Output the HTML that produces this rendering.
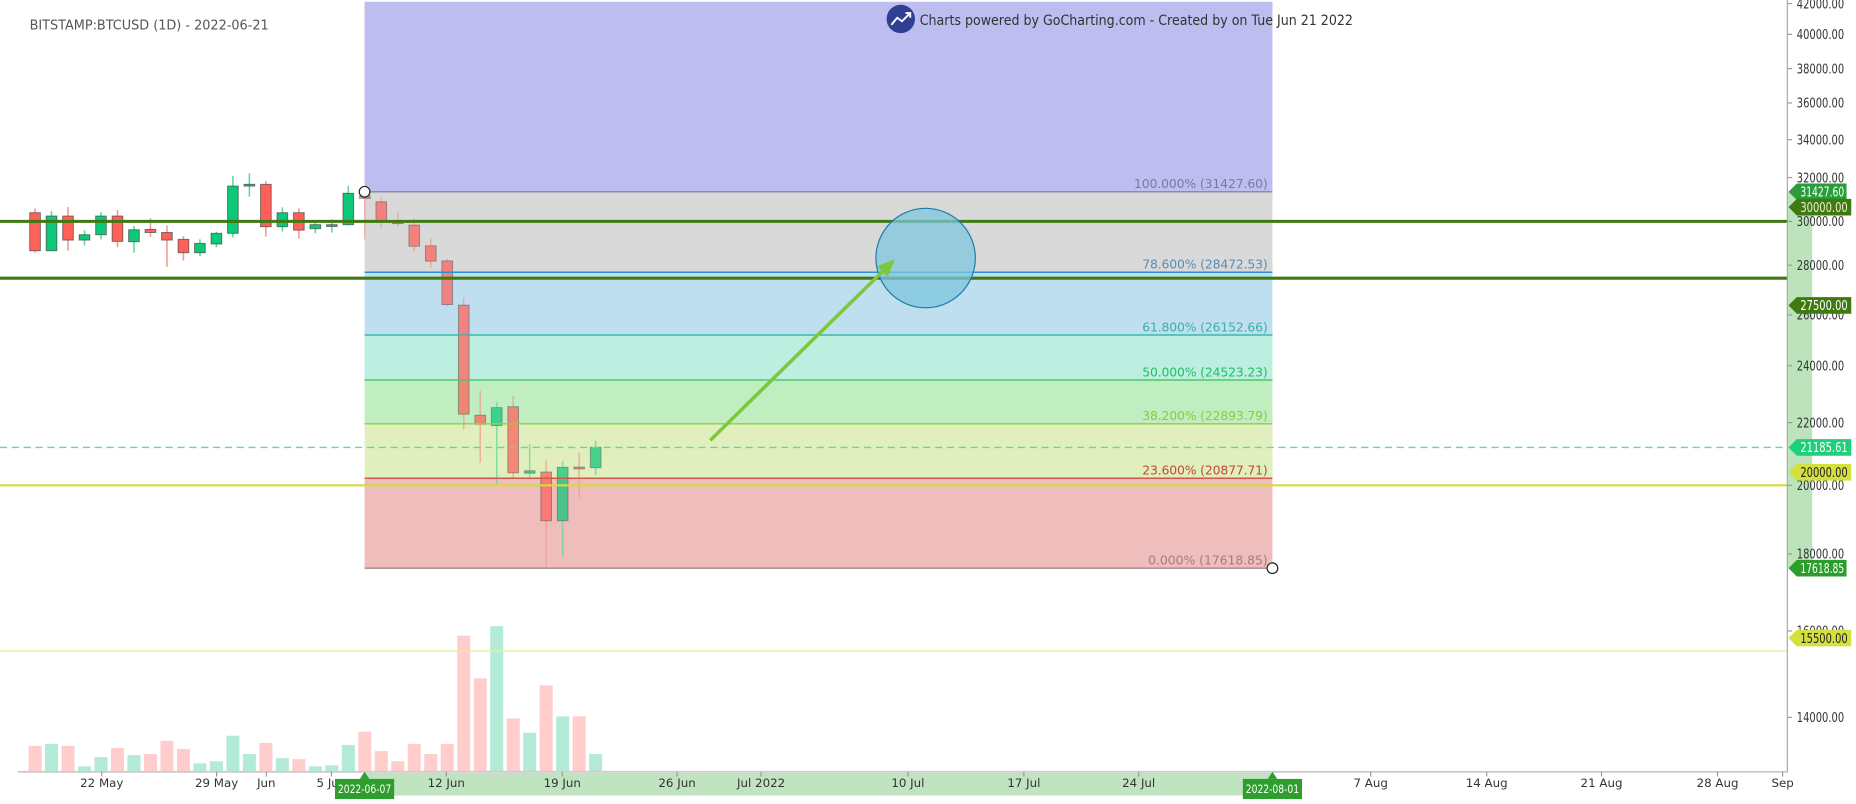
<!DOCTYPE html>
<html><head><meta charset="utf-8"><style>
html,body{margin:0;padding:0;background:#fff;}
svg{display:block;}
text{font-family:"DejaVu Sans","Liberation Sans",sans-serif;}
</style></head><body>
<svg width="1856" height="804" viewBox="0 0 1568 679.2" preserveAspectRatio="none" xmlns="http://www.w3.org/2000/svg">
<rect width="1568" height="680" fill="#fff"/>
<text x="25" y="25" font-size="11.5" fill="#555" textLength="202" lengthAdjust="spacingAndGlyphs">BITSTAMP:BTCUSD (1D) - 2022-06-21</text>

<g>
<rect x="308" y="1.5" width="767" height="160.5" fill="#bdbdf0"/>
<rect x="308" y="162" width="767" height="68" fill="#d9d9d9"/>
<rect x="308" y="230" width="767" height="53" fill="#bfdff0"/>
<rect x="308" y="283" width="767" height="38" fill="#bdefe0"/>
<rect x="308" y="321" width="767" height="37" fill="#c0eec0"/>
<rect x="308" y="358" width="767" height="46" fill="#e0efbd"/>
<rect x="308" y="404" width="767" height="76" fill="#f0bdbd"/>
</g>

<g id="vol"></g>
<g id="candles"></g>

<g stroke-width="1.2">
<line x1="308" y1="162" x2="1075" y2="162" stroke="#8c8ca8"/>
<line x1="308" y1="230" x2="1075" y2="230" stroke="#2e8fd0"/>
<line x1="308" y1="283" x2="1075" y2="283" stroke="#3cb8a8"/>
<line x1="308" y1="321" x2="1075" y2="321" stroke="#4cc86a"/>
<line x1="308" y1="358" x2="1075" y2="358" stroke="#90d040"/>
<line x1="308" y1="404" x2="1075" y2="404" stroke="#d05a4a"/>
<line x1="308" y1="480" x2="1075" y2="480" stroke="#a08888"/>
</g>
<g font-size="10.5" text-anchor="end" lengthAdjust="spacingAndGlyphs">
<text x="1071" y="159" fill="#7a7aa0" textLength="113">100.000% (31427.60)</text>
<text x="1071" y="227" fill="#5a8fb0" textLength="106">78.600% (28472.53)</text>
<text x="1071" y="280" fill="#3ab0a8" textLength="106">61.800% (26152.66)</text>
<text x="1071" y="318" fill="#20c060" textLength="106">50.000% (24523.23)</text>
<text x="1071" y="355" fill="#88cc40" textLength="106">38.200% (22893.79)</text>
<text x="1071" y="401" fill="#c04a38" textLength="106">23.600% (20877.71)</text>
<text x="1071" y="477" fill="#a87a7a" textLength="101">0.000% (17618.85)</text>
</g>

<line x1="0" y1="187" x2="1510" y2="187" stroke="#3f7a10" stroke-width="2.6"/>
<line x1="0" y1="235" x2="1510" y2="235" stroke="#3f7a10" stroke-width="2.6"/>
<line x1="0" y1="378" x2="1510" y2="378" stroke="#5ad8b0" stroke-width="1.2" stroke-dasharray="6,4"/>
<line x1="0" y1="410" x2="1510" y2="410" stroke="#d4dc3a" stroke-width="1.8"/>
<line x1="0" y1="550" x2="1510" y2="550" stroke="#e8f0a0" stroke-width="1.2"/>

<circle cx="782" cy="218" r="42" fill="#7ec6dc" fill-opacity="0.75" stroke="#1a7fa8" stroke-width="1"/>
<line x1="600" y1="372" x2="750" y2="225" stroke="#7cc83c" stroke-width="3"/>
<polygon points="756,219 741,225 750,234" fill="#7cc83c"/>

<circle cx="308" cy="162" r="4.5" fill="#fff" stroke="#222" stroke-width="1"/>
<circle cx="1075" cy="480" r="4.5" fill="#fff" stroke="#222" stroke-width="1"/>

<rect x="1510" y="162" width="21" height="318" fill="#bde3bd"/>
<line x1="1510" y1="0" x2="1510" y2="653" stroke="#aaa" stroke-width="1"/>
<line x1="15" y1="652" x2="1510" y2="652" stroke="#ccc" stroke-width="1.5"/>
<g font-size="11" fill="#333" id="pl"></g>
<rect x="308" y="653" width="767" height="19" fill="#c0e3c0"/>
<g font-size="10" fill="#333" text-anchor="middle" id="tl"></g>

<rect x="283" y="658" width="50" height="17" fill="#2e9e2e"/>
<polygon points="308,652 304,658 312,658" fill="#2e9e2e"/>
<text x="308" y="670" font-size="10" fill="#fff" text-anchor="middle" textLength="45" lengthAdjust="spacingAndGlyphs">2022-06-07</text>
<rect x="1050" y="658" width="50" height="17" fill="#2e9e2e"/>
<polygon points="1075,652 1071,658 1079,658" fill="#2e9e2e"/>
<text x="1075" y="670" font-size="10" fill="#fff" text-anchor="middle" textLength="45" lengthAdjust="spacingAndGlyphs">2022-08-01</text>

<g font-size="11">
<polygon points="1511,162 1518,155 1560,155 1560,169 1518,169" fill="#2a9d3a"/><text x="1521" y="166" fill="#fff" textLength="37" lengthAdjust="spacingAndGlyphs">31427.60</text>
<polygon points="1511,175 1518,168 1564,168 1564,182 1518,182" fill="#3f7a10"/><text x="1521" y="179" fill="#e8f0d0" textLength="40" lengthAdjust="spacingAndGlyphs">30000.00</text>
<polygon points="1511,258 1518,251 1564,251 1564,265 1518,265" fill="#3f7a10"/><text x="1521" y="262" fill="#fff" textLength="40" lengthAdjust="spacingAndGlyphs">27500.00</text>
<polygon points="1511,378 1518,371 1564,371 1564,385 1518,385" fill="#1ed07a"/><text x="1521" y="382" fill="#fff" textLength="40" lengthAdjust="spacingAndGlyphs">21185.61</text>
<polygon points="1511,399 1518,392 1564,392 1564,406 1518,406" fill="#d4e040"/><text x="1521" y="403" fill="#222" textLength="40" lengthAdjust="spacingAndGlyphs">20000.00</text>
<polygon points="1511,480 1518,473 1560,473 1560,487 1518,487" fill="#2a9d2a"/><text x="1521" y="484" fill="#fff" textLength="37" lengthAdjust="spacingAndGlyphs">17618.85</text>
<polygon points="1511,539 1518,532 1564,532 1564,546 1518,546" fill="#d4e040"/><text x="1521" y="543" fill="#222" textLength="40" lengthAdjust="spacingAndGlyphs">15500.00</text>
</g>

<circle cx="761" cy="16" r="12" fill="#2f3f94"/>
<polyline points="753,21 758,15 762,18 769,11" fill="none" stroke="#fff" stroke-width="1.6"/>
<polyline points="765,11 769,11 769,15" fill="none" stroke="#fff" stroke-width="1.6"/>
<text x="777" y="21" font-size="12" fill="#333" textLength="366" lengthAdjust="spacingAndGlyphs">Charts powered by GoCharting.com - Created by  on Tue Jun 21 2022</text>
</svg>
<script>
const NS="http://www.w3.org/2000/svg";
function el(p,t,a,txt){const e=document.createElementNS(NS,t);for(const k in a)e.setAttribute(k,a[k]);if(txt)e.textContent=txt;p.appendChild(e);return e;}
const C=[
[179.7,211.8,176,213.5,'r'],[182.5,211.8,178.3,211.8,'g'],[182.5,202.8,174.9,211.8,'r'],[198.3,202.8,194.4,207.3,'g'],
[182.5,198.3,179.1,202.2,'g'],[182.5,203.9,177.4,208.9,'r'],[194.1,204.2,190.9,213.5,'g'],[193.8,196.4,184.4,200,'r'],
[196.4,202.8,190.4,225.3,'r'],[202.2,213.5,199.4,220.2,'r'],[205.6,213.5,202.2,216.3,'g'],[197.1,206.1,195.7,208.9,'g'],
[157.2,197.1,148.7,200.5,'g'],[155.7,157.2,146.5,166.1,'g'],[155.7,191.5,152.9,200,'r'],[179.7,191.5,175.2,195.7,'g'],
[179.7,194.4,176,201.6,'r'],[189.8,193.2,188.1,197.1,'g'],[189.8,190.7,185.3,196.5,'g'],[163.3,189.8,157.2,190.4,'g'],
[165.6,167.6,163,202.2,'r'],[170.5,187.6,166.9,193.2,'r'],[186.9,188.9,179,191.5,'r'],[190.2,208,184.6,212.2,'r'],
[207.7,220.6,201.5,226.3,'r'],[220.4,257.3,218.4,258.7,'r'],[257.8,349.9,251.4,362.6,'r'],[350.8,358.4,330.2,391,'r'],
[344.4,359.5,339.6,408.8,'g'],[343.6,399.4,334.6,404.4,'r'],[397.7,399.7,375.2,404.4,'g'],[398.8,439.9,389.1,480.2,'r'],
[394.8,439.9,389.4,470.3,'g'],[394.6,396,382.4,420.4,'r'],[377.9,395.1,372.3,401.3,'g']];
const V=[630.1,628.4,630.1,647.4,639.6,631.9,637.9,637,625.8,632.7,644.8,643.1,621.5,637,627.6,640.5,641.3,647.4,646.5,629.3,618.1,634.5,643.1,628.4,637,628.4,537,573,529,606.9,619,579,605.2,605.2,637];
const cg=document.getElementById('candles'),vg=document.getElementById('vol');
C.forEach((c,i)=>{const x=29.6+i*13.93;const g=c[4]=='g';const inz=i>=20;
el(vg,'rect',{x:x-5.5,y:V[i],width:11,height:652-V[i],fill:g?'#b3ebd6':'#ffcdcb'});
const gg=el(cg,'g',{opacity:inz?0.72:1});
el(gg,'line',{x1:x,y1:c[2],x2:x,y2:c[3],stroke:g?'#5cd89a':'#f09a94','stroke-width':1.3});
el(gg,'rect',{x:x-4.5,y:c[0],width:9,height:Math.max(1.5,c[1]-c[0]),fill:g?'#0cc878':'#ff6058',stroke:'#444','stroke-opacity':0.7,'stroke-width':0.8});
});
const pl=document.getElementById('pl');
[[42000,3],[40000,29],[38000,58],[36000,87],[34000,118],[32000,150],[30000,187],[28000,224],[26000,266],[24000,309],[22000,357],[20000,410],[18000,468],[16000,533],[14000,606]].forEach(p=>{
el(pl,'line',{x1:1510,y1:p[1],x2:1514,y2:p[1],stroke:'#999'});
el(pl,'text',{x:1518,y:p[1]+4,textLength:40,lengthAdjust:'spacingAndGlyphs'},p[0]+'.00');});
const tl=document.getElementById('tl');
[['22 May',86],['29 May',183],['Jun',225],['5 Jun',280],['12 Jun',377],['19 Jun',475],['26 Jun',572],['Jul 2022',643],['10 Jul',767],['17 Jul',865],['24 Jul',962],['7 Aug',1158],['14 Aug',1256],['21 Aug',1353],['28 Aug',1451],['Sep',1506]].forEach(t=>{
el(tl,'line',{x1:t[1],y1:652,x2:t[1],y2:656,stroke:'#999'});
el(tl,'text',{x:t[1],y:665},t[0]);});
</script>
</body></html>
